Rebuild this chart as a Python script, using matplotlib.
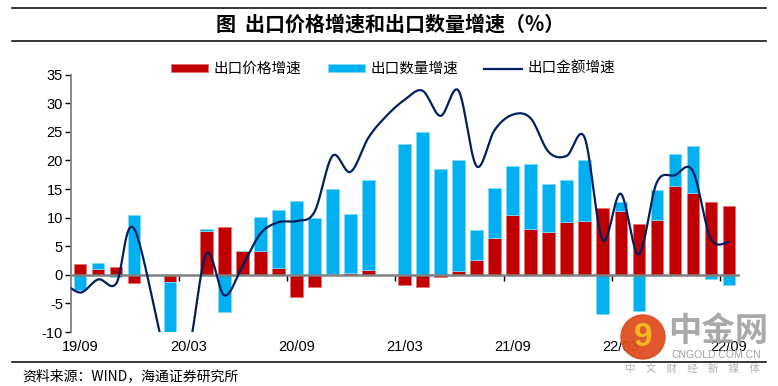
import numpy as np
import pandas as pd
import matplotlib
matplotlib.use("Agg")
import matplotlib.pyplot as plt
from matplotlib.lines import Line2D
from matplotlib.patches import Patch, Ellipse

plt.rcParams['font.family'] = ['Liberation Sans', 'Noto Sans CJK SC', 'DejaVu Sans']
plt.rcParams['axes.unicode_minus'] = False

# months 19/08 .. 22/09 (19/08 only carries the line value that starts off the left edge)
months = [p.strftime('%y/%m') for p in pd.period_range('2019-08', '2022-09', freq='M')]

# 出口价格增速 (red)
price = [np.nan,
         1.9, 1.05, 1.35, -1.4, np.nan, -1.3, np.nan, 7.6, 8.35, 4.25, 4.2, 1.15,
         -3.8, -2.2, 0.1, 0.4, 0.9, np.nan, -1.7, -2.2, -0.35, 0.65, 2.6, 6.5,
         10.5, 8.05, 7.5, 9.3, 9.45, 11.7, 11.1, 8.9, 9.6, 15.6, 14.3, 12.7, 12.0]
# 出口数量增速 (blue)
quantity = [np.nan,
            -2.7, 1.05, -0.35, 10.5, np.nan, -16.0, np.nan, 0.5, -6.5, 0.0, 5.95, 10.25,
            12.95, 10.0, 14.9, 10.3, 15.6, np.nan, 22.8, 25.0, 18.5, 19.35, 5.2, 8.7,
            8.5, 11.35, 8.4, 7.3, 10.55, -6.8, 1.7, -6.3, 5.2, 5.6, 8.3, -0.75, -1.8]
# 出口金额增速 (line)
value = [-1.0,
         -3.1, -0.8, -1.5, 8.0, np.nan, -17.2, -13.4, 3.7, -3.6, 1.5, 7.2, 9.2,
         9.4, 11.0, 20.8, 18.0, 24.0, 27.8, 30.6, 32.2, 27.8, 32.2, 19.0, 25.3,
         28.0, 27.4, 21.5, 20.8, 24.0, 6.1, 14.2, 3.6, 16.1, 17.4, 18.2, 6.4, 5.7]

tick_labels = ['19/09', '20/03', '20/09', '21/03', '21/09', '22/03', '22/09']


def excel_smooth(x, y, n=30):
    # bezier smoothing like excel's "smoothed line", gaps are connected
    m = ~np.isnan(y)
    x, y = np.asarray(x, float)[m], np.asarray(y, float)[m]
    px = np.concatenate([[x[0]], x, [x[-1]]])
    py = np.concatenate([[y[0]], y, [y[-1]]])
    xs, ys = [], []
    t = np.linspace(0, 1, n)
    for i in range(1, len(px) - 2):
        p0 = np.array([px[i], py[i]])
        p3 = np.array([px[i + 1], py[i + 1]])
        c1 = p0 + (p3 - np.array([px[i - 1], py[i - 1]])) / 6
        c2 = p3 - (np.array([px[i + 2], py[i + 2]]) - p0) / 6
        b = ((1 - t) ** 3)[:, None] * p0 + (3 * t * (1 - t) ** 2)[:, None] * c1 \
            + (3 * t ** 2 * (1 - t))[:, None] * c2 + (t ** 3)[:, None] * p3
        xs.append(b[:, 0])
        ys.append(b[:, 1])
    return np.concatenate(xs), np.concatenate(ys)


x = np.arange(len(months))
price = np.array(price)
quantity = np.array(quantity)
p0 = np.nan_to_num(price)
q_bottom = np.where(quantity >= 0, np.maximum(p0, 0), np.minimum(p0, 0))

fig = plt.figure(figsize=(7.78, 3.86), dpi=100)
ax = fig.add_axes([71.3 / 778, 1 - 332 / 386, (737.7 - 71.3) / 778, (332 - 74.7) / 386])

red = '#C00000'
blue = '#00B0F0'
navy = '#002060'
ax.bar(x, price, width=0.68, color=red, edgecolor='#E87070', linewidth=0.6, zorder=2)
ax.bar(x, quantity, bottom=q_bottom, width=0.68, color=blue, edgecolor='#80DAF8',
       linewidth=0.6, zorder=2)
sx, sy = excel_smooth(x, np.array(value))
ax.plot(sx, sy, color=navy, lw=1.6, zorder=4, solid_capstyle='round')

ax.set_xlim(0.5, len(months) - 0.5)
ax.set_ylim(-10, 35)
ax.set_yticks(np.arange(-10, 36, 5))
ax.tick_params(axis='y', direction='out', length=4, width=1, color='#000000',
               labelsize=10.5, pad=2)

for s in ['top', 'right']:
    ax.spines[s].set_visible(False)
ax.spines['left'].set_color('#808080')
ax.spines['left'].set_linewidth(1.3)
ax.spines['bottom'].set_position(('data', 0))
ax.spines['bottom'].set_color('#808080')
ax.spines['bottom'].set_linewidth(1.8)
ax.spines['bottom'].set_zorder(3)

# small ticks on the zero line between groups of six months
ax.set_xticks([months.index(m) - 0.5 for m in tick_labels[1:]])
ax.set_xticklabels([])
ax.tick_params(axis='x', direction='out', length=4, width=1, color='#000000')

sec = ax.secondary_xaxis(0.0)
sec.set_xticks([months.index(m) for m in tick_labels])
sec.set_xticklabels(tick_labels)
sec.tick_params(length=0, labelsize=10.5, pad=6)
sec.spines['bottom'].set_visible(False)

handles = [Patch(facecolor=red, edgecolor='#E87070', linewidth=0.6),
           Patch(facecolor=blue, edgecolor='#80DAF8', linewidth=0.6),
           Line2D([], [], color=navy, lw=1.6)]
fig.legend(handles, ['出口价格增速', '出口数量增速', '出口金额增速'],
           loc='center', bbox_to_anchor=(393 / 778, 1 - 69 / 386), ncol=3, frameon=False,
           prop={'family': ['Noto Sans CJK SC'], 'size': 10.5},
           handlelength=2.57, handleheight=0.42, handletextpad=0.39, columnspacing=1.78)

# title with rules above and below
fig.add_artist(Line2D([12 / 778, 766 / 778], [1 - 8 / 386] * 2, color='black', lw=1.1))
fig.add_artist(Line2D([12 / 778, 766 / 778], [1 - 41 / 386] * 2, color='black', lw=1.1))
fig.text(390 / 778, 1 - 24.5 / 386, '图  出口价格增速和出口数量增速（%）', ha='center', va='center',
         fontsize=14.4, fontweight='bold', family=['Noto Sans CJK SC', 'DejaVu Sans'])

fig.add_artist(Line2D([12 / 778, 766 / 778], [1 - 362 / 386] * 2, color='black', lw=1.1))
fig.text(22 / 778, 1 - 376 / 386, '资料来源：WIND，海通证券研究所', ha='left', va='center',
         fontsize=10, family=['Noto Sans CJK SC', 'DejaVu Sans'])

# watermark
fig.add_artist(Ellipse((643 / 778, 1 - 337 / 386), 44 / 778, 44 / 386, transform=fig.transFigure,
                       color='#E04A1C', alpha=0.92, zorder=10))
fig.text(643 / 778, 1 - 338 / 386, '9', ha='center', va='center', fontsize=24,
         fontweight='bold', color='#F5B820', zorder=11)
fig.text(718 / 778, 1 - 332 / 386, '中金网', ha='center', va='center', fontsize=24,
         fontweight='bold', color='#9A9A9A', alpha=0.85, zorder=11,
         family=['Noto Sans CJK SC', 'DejaVu Sans'])
fig.text(716 / 778, 1 - 355 / 386, 'CNGOLD.COM.CN', ha='center', va='center', fontsize=7.5,
         color='#A0A0A0', zorder=11)
fig.text(692 / 778, 1 - 369 / 386, '中\u3000文\u3000财\u3000经\u3000新\u3000媒\u3000体',
         ha='center', va='center', fontsize=7.5, color='#B0B0B0', zorder=11,
         family=['Noto Sans CJK SC', 'DejaVu Sans'])

fig.savefig('out.png', dpi=100)
